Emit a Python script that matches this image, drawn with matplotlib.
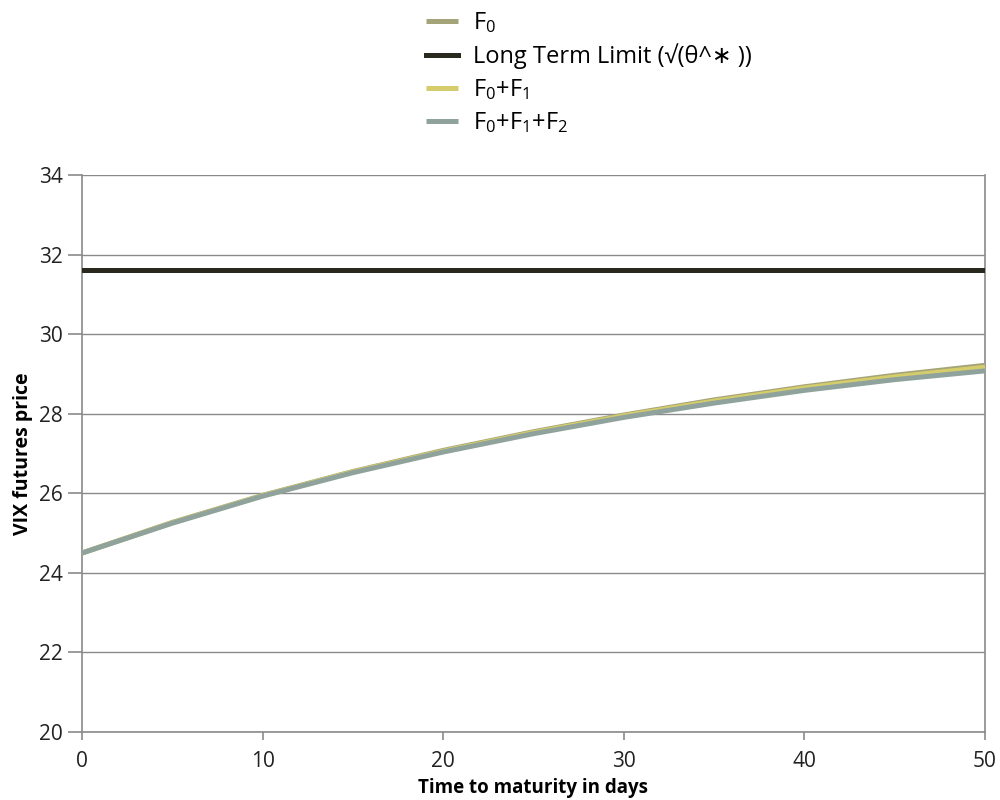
import matplotlib
matplotlib.use("Agg")
import matplotlib.pyplot as plt

plt.rcParams['font.family'] = ['Open Sans', 'DejaVu Sans']
plt.rcParams['mathtext.default'] = 'regular'

days = [0, 5, 10, 15, 20, 25, 30, 35, 40, 45, 50]
f0 = [24.50, 25.27, 25.95, 26.55, 27.08, 27.55, 27.97, 28.35, 28.68, 28.97, 29.22]
f0_f1 = [24.50, 25.26, 25.94, 26.54, 27.06, 27.53, 27.95, 28.32, 28.65, 28.93, 29.17]
f0_f1_f2 = [24.50, 25.25, 25.93, 26.52, 27.04, 27.50, 27.91, 28.27, 28.59, 28.86, 29.08]
long_term = 31.62

labels = ["F$_0$", "Long Term Limit (√(θ^∗ ))", "F$_0$+F$_1$", "F$_0$+F$_1$+F$_2$"]
colors = ["#a4a478", "#2a291e", "#d5cd6c", "#8fa39c"]

fig = plt.figure(figsize=(10, 8), dpi=100)
ax = fig.add_axes([0.082, 0.085, 0.903, 0.696])

h0, = ax.plot(days, f0, color=colors[0], lw=3.6, solid_capstyle='butt', zorder=3)
h1 = ax.axhline(long_term, color=colors[1], lw=3.6, zorder=3)
h2, = ax.plot(days, f0_f1, color=colors[2], lw=3.6, solid_capstyle='butt', zorder=4)
h3, = ax.plot(days, f0_f1_f2, color=colors[3], lw=3.6, solid_capstyle='butt', zorder=5)

ax.set_xlim(0, 50)
ax.set_ylim(20, 34)
ax.set_xticks([0, 10, 20, 30, 40, 50])
ax.set_yticks([20, 22, 24, 26, 28, 30, 32, 34])
ax.grid(axis='y', color='#8a8a8a', lw=1.0)
ax.set_axisbelow(True)
for s in ['left', 'bottom', 'right']:
    ax.spines[s].set_color('#8a8a8a')
    ax.spines[s].set_linewidth(1.2)
ax.spines['top'].set_visible(False)
ax.tick_params(axis='y', length=10, width=1.2, color='#8a8a8a', labelsize=15, labelcolor='#222222', pad=4)
ax.tick_params(axis='x', length=6, width=1.2, color='#8a8a8a', labelsize=15, labelcolor='#222222', pad=8)

ax.set_xlabel("Time to maturity in days", fontsize=13.5, fontweight='bold', labelpad=4)
ax.set_ylabel("VIX futures price", fontsize=14, fontweight='bold', labelpad=4)

fig.legend([h0, h1, h2, h3], labels, loc='upper left', bbox_to_anchor=(0.405, 1.014),
           frameon=False, fontsize=17, handlelength=1.36, handletextpad=0.62,
           labelspacing=0.35)

fig.savefig("out.png", dpi=100)
